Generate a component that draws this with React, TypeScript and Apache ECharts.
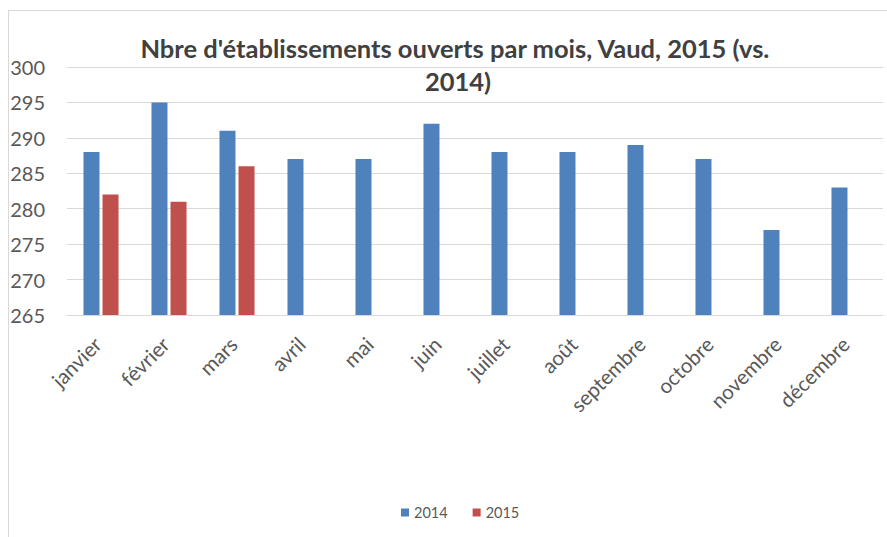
import React, { useEffect, useRef } from "react";
import * as echarts from "echarts";

const months = ["janvier", "février", "mars", "avril", "mai", "juin", "juillet", "août", "septembre", "octobre", "novembre", "décembre"];
const values2014 = [288, 295, 291, 287, 287, 292, 288, 288, 289, 287, 277, 283];
const values2015: (number | null)[] = [282, 281, 286, null, null, null, null, null, null, null, null, null];
const yTicks = { min: 265, max: 300, interval: 5 };
const titleText = "Nbre d'établissements ouverts par mois, Vaud, 2015 (vs. 2014)";

const FONT = "Lato, 'Liberation Sans', sans-serif";

export default function App() {
  const ref = useRef<HTMLDivElement>(null);
  useEffect(() => {
    if (!ref.current) return;
    const chart = echarts.init(ref.current, undefined, { renderer: "svg" });
    chart.setOption({
      animation: false,
      backgroundColor: "#ffffff",
      textStyle: { fontFamily: FONT },
      title: {
        text: titleText,
        left: 453,
        textAlign: "center",
        top: 26,
        textStyle: {
          fontFamily: FONT,
          fontSize: 25.5,
          fontWeight: "bold",
          color: "#404040",
          width: 670,
          overflow: "break",
          lineHeight: 33,
          align: "center",
        },
      },
      legend: {
        bottom: 17,
        left: 401,
        padding: 0,
        itemWidth: 8,
        itemHeight: 8,
        itemGap: 25,
        icon: "rect",
        textStyle: { fontFamily: FONT, fontSize: 14.5, color: "#595959" },
        data: ["2014", "2015"],
      },
      grid: { left: 67, right: 4, top: 67, bottom: 222, containLabel: false },
      xAxis: {
        type: "category",
        data: months,
        axisLine: { show: true, lineStyle: { color: "#d9d9d9" } },
        axisTick: { show: false },
        axisLabel: { rotate: 45, fontSize: 20.5, color: "#595959", margin: 22, padding: [0, 5, 0, 0], fontFamily: FONT, interval: 0 },
      },
      yAxis: {
        type: "value",
        min: yTicks.min,
        max: yTicks.max,
        interval: yTicks.interval,
        axisLine: { show: false },
        axisTick: { show: false },
        splitLine: { lineStyle: { color: "#d9d9d9" } },
        axisLabel: { fontSize: 20, color: "#595959", margin: 22, fontFamily: FONT },
      },
      graphic: [
        { type: "line", shape: { x1: 8, y1: 10.5, x2: 887, y2: 10.5 }, style: { stroke: "#d9d9d9", lineWidth: 1 } },
        { type: "line", shape: { x1: 8.5, y1: 10, x2: 8.5, y2: 537 }, style: { stroke: "#d9d9d9", lineWidth: 1 } },
      ],
      series: [
        {
          name: "2014",
          type: "bar",
          data: values2014,
          barWidth: 16,
          barGap: "19%",
          itemStyle: { color: "#4F81BD" },
        },
        {
          name: "2015",
          type: "bar",
          data: values2015,
          barWidth: 16,
          barGap: "19%",
          itemStyle: { color: "#C0504D" },
        },
      ],
    });
    return () => chart.dispose();
  }, []);
  return <div ref={ref} style={{ position: "fixed", left: 0, top: 0, width: 887, height: 537 }} />;
}
